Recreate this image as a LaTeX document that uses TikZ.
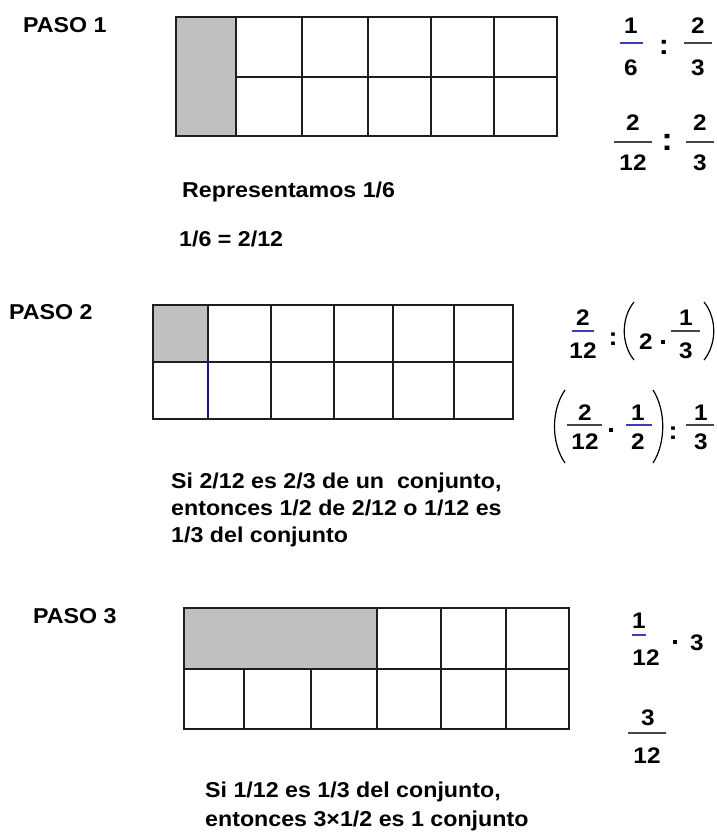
\documentclass[tikz,border=0pt]{standalone}
\usepackage{fontspec}
\setmainfont{Liberation Sans}[FakeStretch=1.08]
\usepackage{xcolor}
\usepackage{tikz}
\usetikzlibrary{positioning}
\definecolor{cellgray}{RGB}{192,192,192}
\definecolor{gridline}{RGB}{30,30,30}
\definecolor{barblue}{RGB}{60,60,180}
\definecolor{lineblue}{RGB}{20,20,150}
\definecolor{bargray}{RGB}{70,70,70}

\begin{document}
\begin{tikzpicture}[x=1pt, y=-1pt,
 every node/.style={inner sep=0pt, font=\fontsize{21.5}{27}\selectfont\bfseries},
 txt/.style={anchor=base west},
 dig/.style={anchor=base, font=\fontsize{22.5}{27}\selectfont\bfseries},
 colon/.style={anchor=base, font=\fontsize{28}{30}\selectfont\bfseries},
 sq/.style={fill=black, minimum size=4pt},
 cell/.style={draw=gridline, line width=2pt},
 fbar/.style={draw=bargray, line width=2pt},
 bbar/.style={draw=barblue, line width=2pt},
 paren/.style={draw=black, line width=1.2pt}]
\useasboundingbox (0,0) rectangle (716,839);

% paso 1
\node[txt] (p1) at (23,32) {PASO 1};
\fill[cellgray] (176,17) rectangle (236,136);
\draw[cell] (176,17) rectangle (557,136);
\foreach \x in {236,302,368,431,494} \draw[cell] (\x,17) -- (\x,136);
\draw[cell] (236,77) -- (557,77);
\node[txt] (rep) at (182,197) {Representamos 1/6};
\node[txt] (eq) at (179,246) {1/6 = 2/12};

\node[dig] (a1n) at (631,33) {1};
\draw[bbar] (620,43) -- (643,43);
\node[dig] (a1d) at (631,75) {6};
\node[colon] (a1c) at (664,54) {:};
\node[dig] (a2n) at (698,33) {2};
\draw[fbar] (684,43) -- (712,43);
\node[dig] (a2d) at (698,75) {3};

\node[dig] (b1n) at (633,130) {2};
\draw[fbar] (614,142) -- (652,142);
\node[dig] (b1d) at (633,170) {12};
\node[colon, font=\fontsize{32}{34}\selectfont\bfseries] (b1c) at (667,150) {:};
\node[dig] (b2n) at (700,130) {2};
\draw[fbar] (686,142) -- (714,142);
\node[dig] (b2d) at (700,170) {3};

% paso 2
\node[txt] (p2) at (9,319) {PASO 2};
\fill[cellgray] (153,305) rectangle (208,362);
\draw[cell] (153,305) rectangle (513,419);
\draw[cell] (153,362) -- (513,362);
\foreach \x in {271,334,393,454} \draw[cell] (\x,305) -- (\x,419);
\draw[cell] (208,305) -- (208,362);
\draw[cell, draw=lineblue, line width=1.5pt] (208,362) -- (208,419);
\node[txt] (s2a) at (171,488) {Si 2/12 es 2/3 de un \ conjunto,};
\node[txt] (s2b) at (171,515) {entonces 1/2 de 2/12 o 1/12 es};
\node[txt] (s2c) at (171,542) {1/3 del conjunto};

\node[dig] (c1n) at (583,325) {2};
\draw[bbar] (572,331) -- (594,331);
\node[dig] (c1d) at (583,358) {12};
\node[colon, font=\fontsize{25}{27}\selectfont\bfseries] (c1c) at (613,345) {:};
\draw[paren] (634,302) .. controls (621,318) and (621,344) .. (634,360);
\node[dig] (c2) at (646,349) {2};
\node[sq] (c2m) at (663,342) {};
\node[dig] (c3n) at (686,325) {1};
\draw[fbar] (671,331) -- (700,331);
\node[dig] (c3d) at (686,358) {3};
\draw[paren] (704,302) .. controls (717,318) and (717,344) .. (704,360);

\draw[paren] (565,390) .. controls (551,410) and (551,443) .. (565,463);
\node[dig] (d1n) at (585,420) {2};
\draw[fbar] (567,425) -- (602,425);
\node[dig] (d1d) at (585,449) {12};
\node[sq] (d1m) at (611,430) {};
\node[dig] (d2n) at (638,420) {1};
\draw[bbar] (626,425) -- (652,425);
\node[dig] (d2d) at (638,449) {2};
\draw[paren] (653,390) .. controls (666,410) and (666,443) .. (653,463);
\node[colon, font=\fontsize{25}{27}\selectfont\bfseries] (d2c) at (673,439) {:};
\node[dig] (d3n) at (701,420) {1};
\draw[fbar] (686,425) -- (714,425);
\node[dig] (d3d) at (701,449) {3};

% paso 3
\node[txt] (p3) at (33,623) {PASO 3};
\fill[cellgray] (184,608) rectangle (377,669);
\draw[cell] (184,608) rectangle (569,729);
\draw[cell] (184,669) -- (569,669);
\foreach \x in {377,441,506} \draw[cell] (\x,608) -- (\x,729);
\foreach \x in {244,311} \draw[cell] (\x,669) -- (\x,729);
\node[txt] (s3a) at (205,797) {Si 1/12 es 1/3 del conjunto,};
\node[txt] (s3b) at (205,826) {entonces 3×1/2 es 1 conjunto};

\node[dig] (e1n) at (639,628) {1};
\draw[bbar] (632,635) -- (646,635);
\node[dig] (e1d) at (646,665) {12};
\node[sq] (e1m) at (675,642) {};
\node[dig] (e2) at (697,650) {3};
\node[dig] (f1n) at (648,725) {3};
\draw[fbar] (628,733) -- (666,733);
\node[dig] (f1d) at (647,763) {12};
\end{tikzpicture}
\end{document}
